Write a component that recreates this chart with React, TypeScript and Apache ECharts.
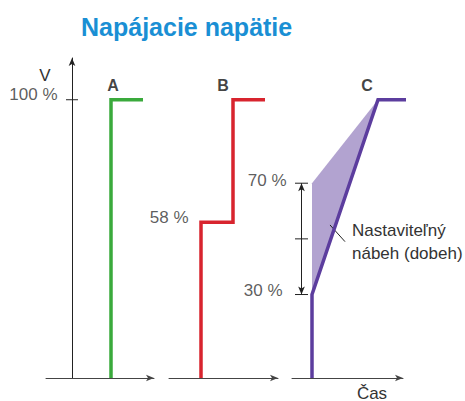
import React, { useEffect, useRef } from "react";
import * as echarts from "echarts";

// ---- data (time in arbitrary units per panel, voltage in %) ----
const TITLE = "Napájacie napätie";
const PANEL_NAMES = ["A", "B", "C"];
const A_X = [39, 39, 71];
const A_Y = [0, 100, 100];
const B_X = [32, 32, 64, 64, 96];
const B_Y = [0, 56, 56, 100, 100];
const C_X = [20, 20, 86, 117];
const C_Y = [0, 30, 100, 100];
const RAMP_X = [20, 86, 20];
const RAMP_Y = [70, 100, 30];
const Y_TICK = 100;
const C_TICKS = [70, 50, 30];
const C_TICK_X = [3, 16];
const ARROW_X = 9.5;
const ARROW_Y = [30, 70];
const LEADER_X = [38, 53];
const LEADER_Y = [55, 49];
const LABELS = { top: "100 %", b: "58 %", c70: "70 %", c30: "30 %" };
const NOTE = "Nastaviteľný\nnábeh (dobeh)";

const FONT = "'Liberation Sans', Arial, Helvetica, sans-serif";
const TXT = "#333333";
const GREEN = "#3aaa3c";
const RED = "#d8242e";
const PURPLE = "#5c3d9e";
const SHADE = "#b2a3d0";

const zip = (xs: number[], ys: number[]) => xs.map((x, i) => [x, ys[i]]);

export default function App() {
  const ref = useRef<HTMLDivElement>(null);
  useEffect(() => {
    if (!ref.current) return;
    const chart = echarts.init(ref.current, null, { renderer: "svg" });
    const yMax = 115;
    const gridTop = 58;
    const gridH = 320;
    const xAxisBase = (min: number, max: number, i: number) => ({
      type: "value",
      gridIndex: i,
      min,
      max,
      axisLine: {
        show: true,
        onZero: true,
        symbol: ["none", "arrow"],
        symbolSize: [5, 8],
        lineStyle: { color: "#444", width: 1 },
      },
      axisTick: { show: false },
      axisLabel: { show: false },
      splitLine: { show: false },
    });
    const yAxisBase = (i: number, show: boolean) => ({
      type: "value",
      gridIndex: i,
      min: 0,
      max: yMax,
      show,
      axisLine: {
        show: true,
        onZero: true,
        symbol: ["none", "arrow"],
        symbolSize: [5, 8],
        lineStyle: { color: "#222", width: 1 },
      },
      axisTick: { show: false },
      axisLabel: { show: false },
      splitLine: { show: false },
    });
    const stepLine = (data: number[][], color: string, i: number) => ({
      type: "line",
      xAxisIndex: i,
      yAxisIndex: i,
      data,
      symbol: "none",
      clip: false,
      lineStyle: { color, width: 3.5, join: "miter", cap: "butt" },
      z: 5,
    });
    const thin = (data: number[][], i: number, color = "#222") => ({
      type: "line",
      xAxisIndex: i,
      yAxisIndex: i,
      data,
      symbol: "none",
      clip: false,
      lineStyle: { color, width: 1 },
      z: 4,
    });
    const textPoint = (
      i: number,
      pt: number[],
      text: string,
      position: string,
      distance: number,
      offset: number[],
      bold = false
    ) => ({
      type: "scatter",
      xAxisIndex: i,
      yAxisIndex: i,
      data: [pt],
      symbolSize: 1,
      itemStyle: { color: "rgba(0,0,0,0)" },
      clip: false,
      silent: true,
      label: {
        show: true,
        formatter: text,
        position,
        distance,
        offset,
        fontFamily: FONT,
        fontSize: bold ? 16 : 17,
        fontWeight: bold ? "bold" : "normal",
        color: bold ? "#111" : TXT,
      },
      z: 6,
    });

    const series: any[] = [
      // panel A
      stepLine(zip(A_X, A_Y), GREEN, 0),
      thin([[-6, Y_TICK], [6, Y_TICK]], 0),
      textPoint(0, [-6, Y_TICK], LABELS.top, "left", 8, [0, -5]),
      textPoint(0, [A_X[1], A_Y[1]], PANEL_NAMES[0], "top", 6, [2, 0], true),
      // panel B
      stepLine(zip(B_X, B_Y), RED, 1),
      textPoint(1, [B_X[1], B_Y[1]], LABELS.b, "left", 12, [0, -5]),
      textPoint(1, [B_X[3], B_Y[3]], PANEL_NAMES[1], "top", 6, [-10, 0], true),
      // panel C
      {
        type: "custom",
        xAxisIndex: 2,
        yAxisIndex: 2,
        data: [0],
        clip: false,
        z: 3,
        renderItem: (_p: any, api: any) => ({
          type: "polygon",
          shape: { points: RAMP_X.map((x, k) => api.coord([x, RAMP_Y[k]])) },
          style: { fill: SHADE },
        }),
      },
      stepLine(zip(C_X, C_Y), PURPLE, 2),
      ...C_TICKS.map((v) => thin([[C_TICK_X[0], v], [C_TICK_X[1], v]], 2)),
      {
        type: "line",
        xAxisIndex: 2,
        yAxisIndex: 2,
        data: [],
        markLine: {
          silent: true,
          animation: false,
          symbol: ["arrow", "arrow"],
          symbolSize: [5, 8],
          label: { show: false },
          lineStyle: { color: "#222", width: 1, type: "solid" },
          data: [[{ coord: [ARROW_X, ARROW_Y[0]] }, { coord: [ARROW_X, ARROW_Y[1]] }]],
        },
      },
      thin(zip(LEADER_X, LEADER_Y), 2),
      textPoint(2, [C_TICK_X[0], C_TICKS[0]], LABELS.c70, "left", 8, [0, -3]),
      textPoint(2, [C_TICK_X[0], C_TICKS[2]], LABELS.c30, "left", 12, [0, -4]),
      textPoint(2, [C_X[2], C_Y[2]], PANEL_NAMES[2], "top", 6, [-11, 0], true),
    ];

    chart.setOption({
      animation: false,
      title: {
        text: TITLE,
        left: 76,
        top: 9,
        textStyle: { fontFamily: FONT, fontSize: 25, fontWeight: "bold", color: "#1a8fd4" },
      },
      grid: [
        { left: 46, top: gridTop, width: 108, height: gridH },
        { left: 169, top: gridTop, width: 109, height: gridH },
        { left: 292, top: gridTop, width: 111, height: gridH },
      ],
      xAxis: [xAxisBase(-26, 82, 0), xAxisBase(0, 109, 1), xAxisBase(0, 111, 2)],
      yAxis: [yAxisBase(0, true), yAxisBase(1, false), yAxisBase(2, false)],
      graphic: [
        {
          type: "text",
          x: 45,
          y: 75,
          style: { text: "V", font: `17px ${FONT}`, fill: TXT, align: "center", verticalAlign: "middle" },
        },
        {
          type: "text",
          x: 372,
          y: 393,
          style: { text: "Čas", font: `17px ${FONT}`, fill: TXT, align: "center", verticalAlign: "middle" },
        },
        {
          type: "text",
          x: 352,
          y: 242,
          style: {
            text: NOTE,
            font: `17px ${FONT}`,
            lineHeight: 23,
            fill: TXT,
            align: "left",
            verticalAlign: "middle",
          },
        },
      ],
      series,
    });
    return () => chart.dispose();
  }, []);
  return (
    <div
      ref={ref}
      style={{ position: "fixed", left: 0, top: 0, width: 465, height: 401, background: "#fff" }}
    />
  );
}
